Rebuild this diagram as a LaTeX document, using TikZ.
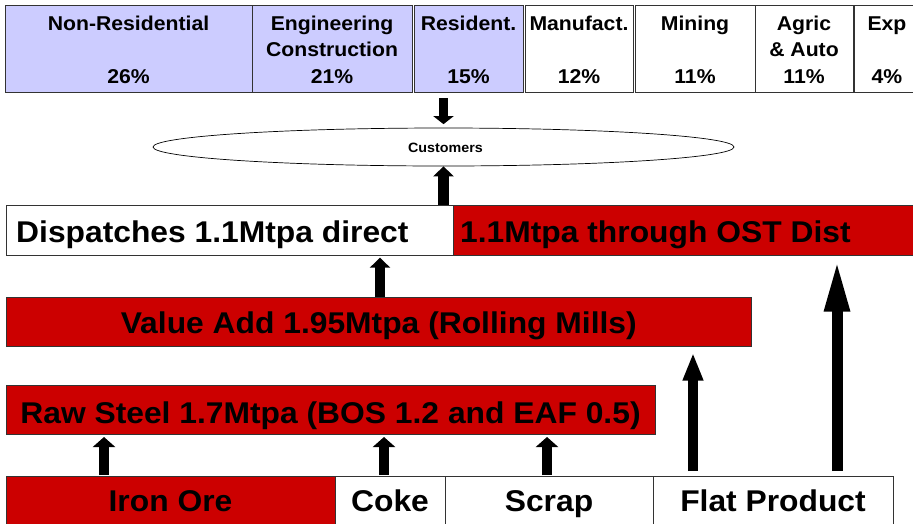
\documentclass[tikz,border=0pt]{standalone}
\usepackage{fontspec}
\setmainfont[FakeStretch=1.06]{Liberation Sans}
\usetikzlibrary{shapes.geometric,arrows.meta}
\definecolor{ostred}{HTML}{CC0000}
\definecolor{lav}{HTML}{CCCCFF}
\definecolor{edge}{HTML}{333333}
\tikzset{
  cell/.style={draw=edge, line width=0.8pt, inner sep=0pt, outer sep=0pt, rectangle, anchor=north west},
  small/.style={inner sep=0pt, anchor=base, font=\bfseries\fontsize{20}{24}\selectfont},
  large/.style={inner sep=0pt, anchor=base, font=\bfseries\fontsize{30}{36}\selectfont},
  tiny/.style={inner sep=0pt, anchor=base, font=\bfseries\fontsize{13.5}{16}\selectfont},
  shortarrow/.style={line width=10.5pt, -{Triangle[width=22pt,length=10pt]}},
}
\begin{document}
\begin{tikzpicture}[x=1pt,y=-1pt]
\useasboundingbox (0,0) rectangle (913,523);
\fill[white] (0,0) rectangle (913,523);
% row baselines
\coordinate (rowA) at (0,30);
\coordinate (rowB) at (0,56.5);
\coordinate (rowC) at (0,83);
% top row
\node[cell, fill=lav, minimum width=247pt, minimum height=87pt] (nonres) at (5,5) {};
\node[cell, fill=lav, minimum width=160pt, minimum height=87pt] (eng) at (252,5) {};
\node[cell, fill=lav, minimum width=109pt, minimum height=87pt] (res) at (414,5) {};
\node[cell, fill=white, minimum width=108pt, minimum height=87pt] (manu) at (525,5) {};
\node[cell, fill=white, minimum width=120pt, minimum height=87pt] (mining) at (635,5) {};
\node[cell, fill=white, minimum width=98pt, minimum height=87pt] (agric) at (755,5) {};
\node[cell, fill=white, minimum width=66pt, minimum height=87pt] (exp) at (854,5) {};
\node[small] (nonresA) at (nonres.north |- rowA) {Non-Residential};
\node[small] (nonresC) at (nonres.north |- rowC) {26\%};
\node[small] (engA) at (eng.north |- rowA) {Engineering};
\node[small] (engB) at (eng.north |- rowB) {Construction};
\node[small] (engC) at (eng.north |- rowC) {21\%};
\node[small] (resA) at (res.north |- rowA) {Resident.};
\node[small] (resC) at (res.north |- rowC) {15\%};
\node[small] (manuA) at (manu.north |- rowA) {Manufact.};
\node[small] (manuC) at (manu.north |- rowC) {12\%};
\node[small] (miningA) at (mining.north |- rowA) {Mining};
\node[small] (miningC) at (mining.north |- rowC) {11\%};
\node[small] (agricA) at (agric.north |- rowA) {Agric};
\node[small] (agricB) at (agric.north |- rowB) {\& Auto};
\node[small] (agricC) at (agric.north |- rowC) {11\%};
\node[small] (expA) at (exp.north |- rowA) {Exp};
\node[small] (expC) at (exp.north |- rowC) {4\%};
% customers
\node[ellipse, draw=black, line width=0.7pt, minimum width=581pt, minimum height=38pt, inner sep=0pt] (cust) at (443.5,147) {};
\node[tiny] (custtxt) at (445.5,152.5) {Customers};
% dispatches
\node[cell, fill=white, minimum width=447pt, minimum height=49.5pt] (disp) at (6.5,205.7) {};
\node[cell, fill=ostred, minimum width=465pt, minimum height=49.5pt] (ost) at (453,205.7) {};
\node[large, anchor=base west] (disptxt) at (16,242.3) {Dispatches 1.1Mtpa direct};
\node[large, anchor=base west] (osttxt) at (460,242.3) {1.1Mtpa through OST Dist};
% value add
\node[cell, fill=ostred, minimum width=744.5pt, minimum height=49pt] (va) at (6.5,297.7) {};
\coordinate (vaBase) at (0,333.3);
\node[large] (vatxt) at (va.north |- vaBase) {Value Add 1.95Mtpa (Rolling Mills)};
% raw steel
\node[cell, fill=ostred, minimum width=649pt, minimum height=49pt] (raw) at (6,385) {};
\coordinate (rawBase) at (0,423);
\node[large] (rawtxt) at (raw.north |- rawBase) {Raw Steel 1.7Mtpa (BOS 1.2 and EAF 0.5)};
% inputs
\node[cell, fill=ostred, minimum width=329pt, minimum height=60pt] (iron) at (6,476) {};
\node[cell, fill=white, minimum width=110pt, minimum height=60pt] (coke) at (335,476) {};
\node[cell, fill=white, minimum width=208pt, minimum height=60pt] (scrap) at (445,476) {};
\node[cell, fill=white, minimum width=240pt, minimum height=60pt] (flat) at (653,476) {};
\coordinate (inBase) at (0,511.5);
\node[large] (irontxt) at (iron.north |- inBase) {Iron Ore};
\node[large] (coketxt) at (coke.north |- inBase) {Coke};
\node[large] (scraptxt) at (scrap.north |- inBase) {Scrap};
\node[large] (flattxt) at (flat.north |- inBase) {Flat Product};
% arrow feet on the input row
\coordinate (ironFoot) at (104,476);
\coordinate (cokeFoot) at (384,476);
\coordinate (scrapFoot) at (547,476);
\coordinate (flatFootA) at (693,476);
\coordinate (flatFootB) at (837,476);
% arrows
\draw[line width=8.5pt, -{Triangle[width=20pt,length=8pt]}, shorten <=6pt, shorten >=3.5pt] (res.south -| cust.north) -- (cust.north);
\draw[line width=11pt, -{Triangle[width=20pt,length=10pt]}, shorten <=0.5pt] (cust.south |- disp.north) -- (cust.south);
\draw[line width=10pt, -{Triangle[width=20pt,length=10pt]}, shorten <=1pt, shorten >=2.5pt] (va.north -| 380,0) -- (disp.south -| 380,0);
\draw[shortarrow, shorten <=1pt, shorten >=3pt] (ironFoot) -- (ironFoot |- raw.south);
\draw[shortarrow, shorten <=1pt, shorten >=3pt] (cokeFoot) -- (cokeFoot |- raw.south);
\draw[shortarrow, shorten <=1pt, shorten >=3pt] (scrapFoot) -- (scrapFoot |- raw.south);
\draw[line width=9.5pt, -{Triangle[width=19pt,length=28pt]}, shorten <=5pt, shorten >=6pt] (flatFootA) -- (flatFootA |- va.south);
\draw[line width=11pt, -{Triangle[width=23pt,length=53pt]}, shorten <=5pt, shorten >=3.5pt] (flatFootB) -- (flatFootB |- ost.south);
\end{tikzpicture}
\end{document}
